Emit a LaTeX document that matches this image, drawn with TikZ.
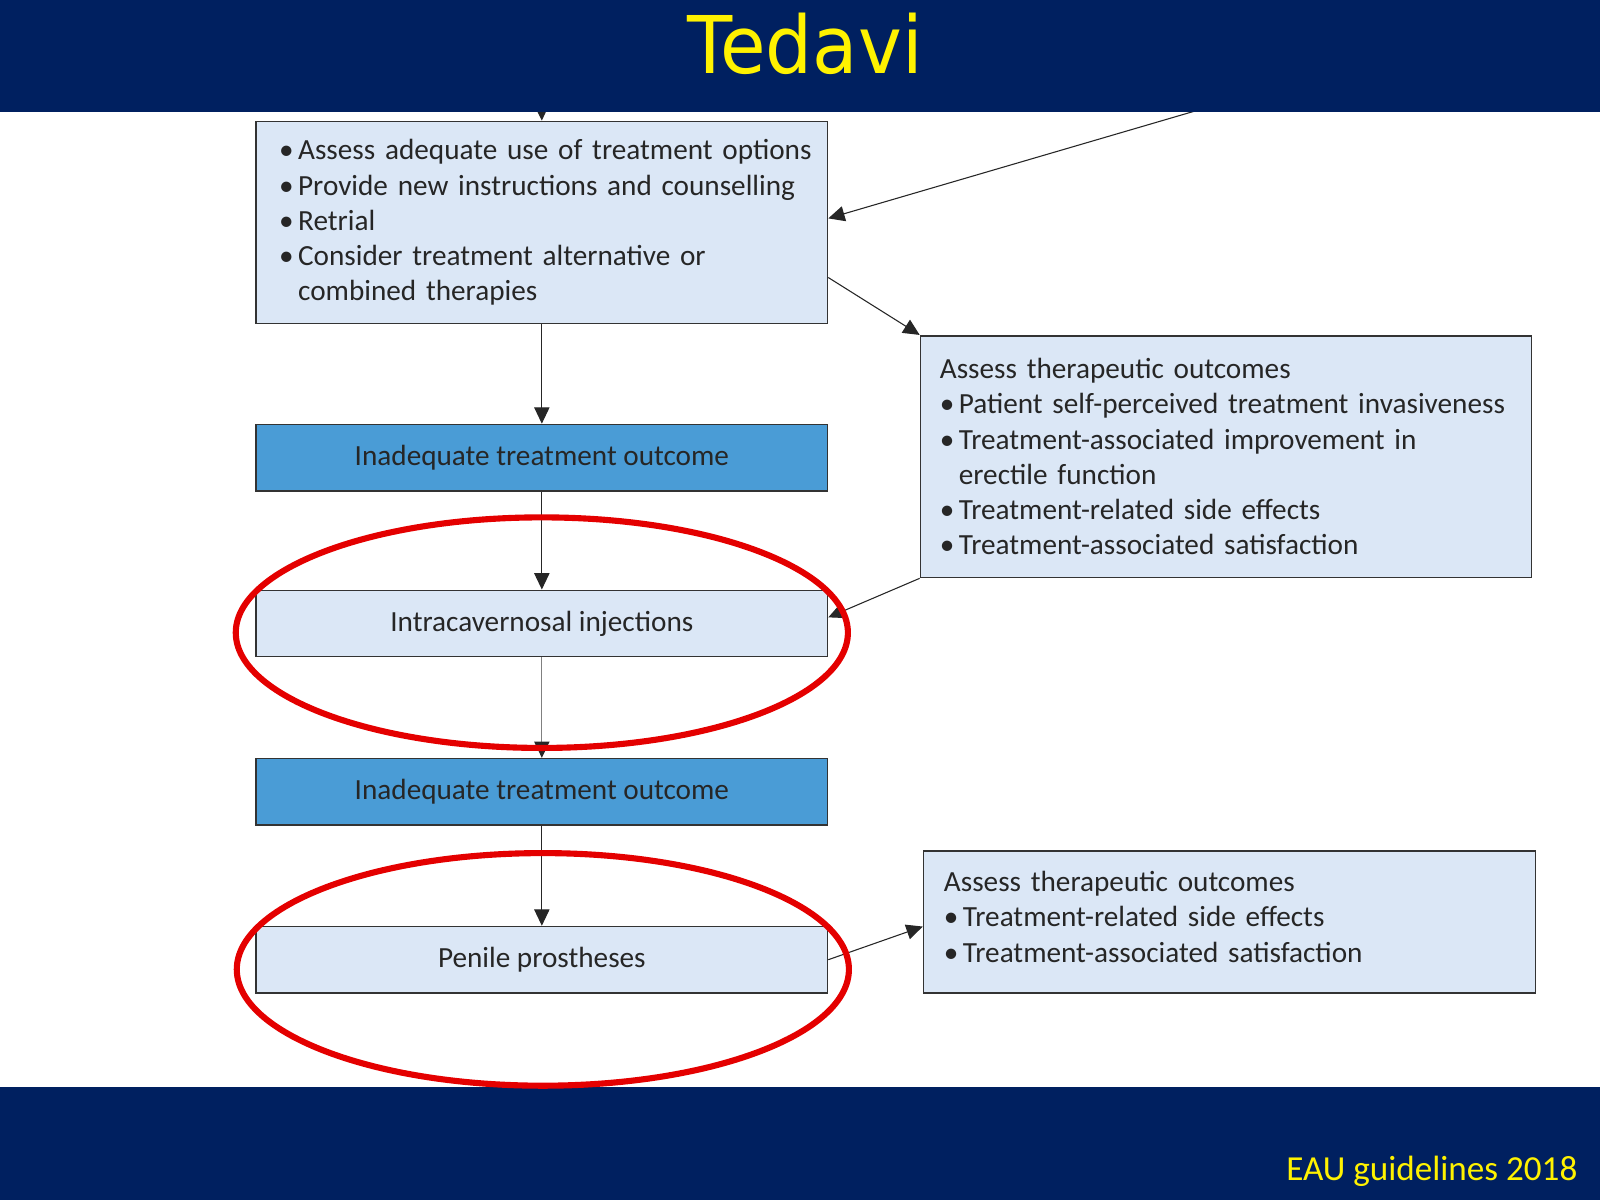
\documentclass[tikz,border=0pt]{standalone}
\usepackage{fontspec}
\setmainfont{Carlito}
\newfontfamily\titlefont[FakeStretch=0.93]{DejaVu Sans}
\usetikzlibrary{arrows.meta}
\definecolor{navy}{RGB}{0,32,96}
\definecolor{lightfill}{RGB}{219,231,246}
\definecolor{darkfill}{RGB}{74,156,214}
\definecolor{boxline}{RGB}{51,51,51}
\definecolor{ink}{RGB}{38,38,38}
\definecolor{ringred}{RGB}{228,0,0}
\newcommand{\itm}{\makebox[10.6pt][l]{•}}
\begin{document}
\begin{tikzpicture}[x=0.02cm,y=-0.02cm,>={Triangle[length=0.32cm,width=0.3cm]},
	box/.style={draw=boxline,line width=0.9pt,text=ink,inner sep=0pt,font=\fontsize{16.3}{19.6}\selectfont},
	lightbox/.style={box,fill=lightfill},
	darkbox/.style={box,fill=darkfill},
	single/.style={minimum width=11.2cm,minimum height=1.3cm},
	arr/.style={->,draw=ink,line width=0.6pt},
	ring/.style={draw=ringred,line width=0.12cm}]
	\useasboundingbox (0,0) rectangle (1568,1176);
	% boxes
	\node[lightbox,minimum width=11.2cm,minimum height=3.96cm,text width=10.3cm,align=left] (assess) at (531,218)
		{\itm \mbox{Assess adequate use of treatment options}\\
		\itm Provide new instructions and counselling\\
		\itm Retrial\\
		\itm Consider treatment alternative or\\
		\hspace*{10.6pt}combined therapies};
	\node[lightbox,minimum width=11.98cm,minimum height=4.74cm,text width=11.22cm,align=left] (therapy) at (1201.5,447.5)
		{Assess therapeutic outcomes\\
		\itm Patient self-perceived treatment invasiveness\\
		\itm Treatment-associated improvement in\\
		\hspace*{10.6pt}erectile function\\
		\itm Treatment-related side effects\\
		\itm Treatment-associated satisfaction};
	\node[darkbox,single] (bad1) at (531,448.5) {Inadequate treatment outcome};
	\node[lightbox,single] (ici) at (531,611) {Intracavernosal injections};
	\node[darkbox,single] (bad2) at (531,776) {Inadequate treatment outcome};
	\node[lightbox,single] (prosth) at (531,940.5) {Penile prostheses};
	\node[lightbox,minimum width=12cm,minimum height=2.78cm,text width=11.2cm,align=left] (therapy2) at (1205,903.5)
		{Assess therapeutic outcomes\\
		\itm Treatment-related side effects\\
		\itm Treatment-associated satisfaction\vspace{0.2cm}};
	% connectors
	\coordinate (intop) at (530,40);
	\coordinate (infar) at (1372,50);
	\draw[arr] (intop) -- (assess.north);
	\draw[arr] (infar) -- ([yshift=0.08cm]assess.east);
	\draw[arr] ([yshift=-1.08cm]assess.east) -- (therapy.north west);
	\draw[arr] (assess.south) -- (bad1.north);
	\draw[arr] (bad1.south) -- (ici.north);
	\draw[arr] (therapy.south west) -- ([yshift=0.12cm]ici.east);
	\draw[arr,draw=gray,-{Triangle[length=0.32cm,width=0.3cm,color=ink]}] (ici.south) -- (bad2.north);
	\draw[arr] (bad2.south) -- (prosth.north);
	\draw[arr] (prosth.east) -- ([yshift=-0.09cm]therapy2.west);
	% banners
	\fill[navy] (0,0) rectangle (1568,110);
	\fill[navy] (0,1065) rectangle (1568,1176);
	\node[anchor=base,text=yellow,font=\titlefont\fontsize{44.4}{50}\selectfont] (title) at (789,72) {Tedavi};
	\node[anchor=base east,text=yellow,font=\fontsize{19.6}{24}\selectfont] (source) at (1552,1157) {EAU guidelines 2018};
	% rings
	\draw[ring] (531,620) ellipse [x radius=6cm, y radius=2.26cm];
	\draw[ring] (532,950) ellipse [x radius=6cm, y radius=2.28cm];
\end{tikzpicture}
\end{document}
